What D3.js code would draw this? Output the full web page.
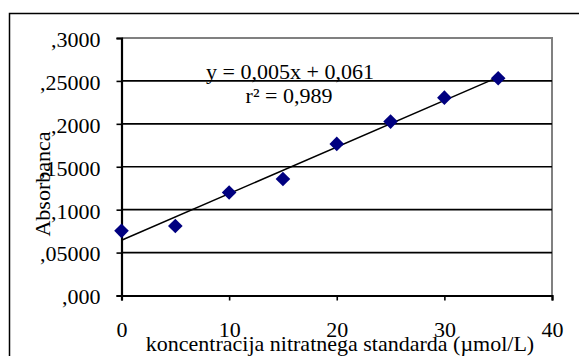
<!DOCTYPE html>
<html>
<head>
<meta charset="utf-8">
<script src="https://cdn.jsdelivr.net/npm/d3@7"></script>
<style>
  html, body { margin: 0; padding: 0; background: #fff; }
  svg { display: block; }
</style>
</head>
<body>
<svg id="chart" width="579" height="356"></svg>
<script>
// ---- data ----
const concentrations = [0, 5, 10, 15, 20, 25, 30, 35];
const absorbance = [0.0753, 0.081, 0.120, 0.1358, 0.1766, 0.2026, 0.2305, 0.2531];
const yTickValues = [0, 0.05, 0.1, 0.15, 0.2, 0.25, 0.3];
const yTickLabels = [",000", ",05000", ",1000", ",15000", ",2000", ",25000", ",3000"];
const xTickValues = [0, 10, 20, 30, 40];
const xTickLabels = ["0", "10", "20", "30", "40"];
const equationText = "y = 0,005x + 0,061";
const r2Text = "r² = 0,989";
const xTitle = "koncentracija nitratnega standarda (µmol/L)";
const yTitle = "Absorbanca";

// ---- layout ----
const FONT = "Liberation Serif";
const FS = 22;
const svg = d3.select("#chart");
const plot = { left: 121.5, right: 552, top: 38, bottom: 295.5 };
const x = d3.scaleLinear().domain([0, 40]).range([plot.left, plot.right]);
const y = d3.scaleLinear().domain([0, 0.3]).range([plot.bottom, plot.top]);

// outer chart border (extends beyond the visible window)
svg.append("rect")
  .attr("x", 9.5).attr("y", 13.5)
  .attr("width", 620).attr("height", 400)
  .attr("fill", "none").attr("stroke", "#000").attr("stroke-width", 1.5);

// plot area border (gray top & right)
svg.append("path")
  .attr("d", `M${plot.left},${plot.top}H${plot.right}V${plot.bottom}`)
  .attr("fill", "none").attr("stroke", "#808080").attr("stroke-width", 2);

// gridlines
svg.append("g").selectAll("line")
  .data(yTickValues.filter(v => v > 0 && v < 0.3))
  .join("line")
  .attr("x1", plot.left).attr("x2", plot.right)
  .attr("y1", d => y(d)).attr("y2", d => y(d))
  .attr("stroke", "#000").attr("stroke-width", 1.6);

// y axis
const yAxis = d3.axisLeft(y).tickValues(yTickValues)
  .tickFormat((d, i) => yTickLabels[i]).tickSize(5).tickPadding(16);
const gy = svg.append("g").attr("transform", `translate(${plot.left},0)`).call(yAxis)
  .attr("font-family", FONT).attr("font-size", FS);
gy.select(".domain").attr("stroke", "#000").attr("stroke-width", 2.2);
gy.selectAll(".tick line").attr("stroke", "#000").attr("stroke-width", 1.6);
gy.selectAll(".tick text").attr("dy", "0.38em").attr("fill", "#000");

// x axis
const xAxis = d3.axisBottom(x).tickValues(xTickValues)
  .tickFormat((d, i) => xTickLabels[i]).tickSize(5).tickPadding(21);
const gx = svg.append("g").attr("transform", `translate(0,${plot.bottom})`).call(xAxis)
  .attr("font-family", FONT).attr("font-size", FS);
gx.select(".domain").attr("stroke", "#000").attr("stroke-width", 2.2);
gx.selectAll(".tick line").attr("stroke", "#000").attr("stroke-width", 1.6);
gx.selectAll(".tick text").attr("fill", "#000");

// trendline (least squares from the data)
const n = concentrations.length;
const mx = d3.mean(concentrations), my = d3.mean(absorbance);
let sxy = 0, sxx = 0;
for (let i = 0; i < n; i++) {
  sxy += (concentrations[i] - mx) * (absorbance[i] - my);
  sxx += (concentrations[i] - mx) ** 2;
}
const slope = sxy / sxx, intercept = my - slope * mx;
const xMin = d3.min(concentrations), xMax = d3.max(concentrations);
svg.append("line")
  .attr("x1", x(xMin)).attr("y1", y(intercept + slope * xMin))
  .attr("x2", x(xMax)).attr("y2", y(intercept + slope * xMax))
  .attr("stroke", "#000").attr("stroke-width", 1.5);

// markers (diamonds)
const r = 7.3;
svg.append("g").selectAll("path")
  .data(concentrations.map((c, i) => [c, absorbance[i]]))
  .join("path")
  .attr("d", d => {
    const cx = x(d[0]), cy = y(d[1]);
    return `M${cx},${cy - r}L${cx + r},${cy}L${cx},${cy + r}L${cx - r},${cy}Z`;
  })
  .attr("fill", "#000080");

// equation labels
svg.append("text").attr("x", 290).attr("y", 79)
  .attr("text-anchor", "middle").attr("font-family", FONT).attr("font-size", FS)
  .text(equationText);
svg.append("text").attr("x", 289).attr("y", 103)
  .attr("text-anchor", "middle").attr("font-family", FONT).attr("font-size", FS)
  .text(r2Text);

// axis titles
svg.append("text").attr("x", 340).attr("y", 351)
  .attr("text-anchor", "middle").attr("font-family", FONT).attr("font-size", FS)
  .text(xTitle);
svg.append("text")
  .attr("transform", "translate(50,184) rotate(-90)")
  .attr("text-anchor", "middle").attr("font-family", FONT).attr("font-size", FS)
  .text(yTitle);
</script>
</body>
</html>
